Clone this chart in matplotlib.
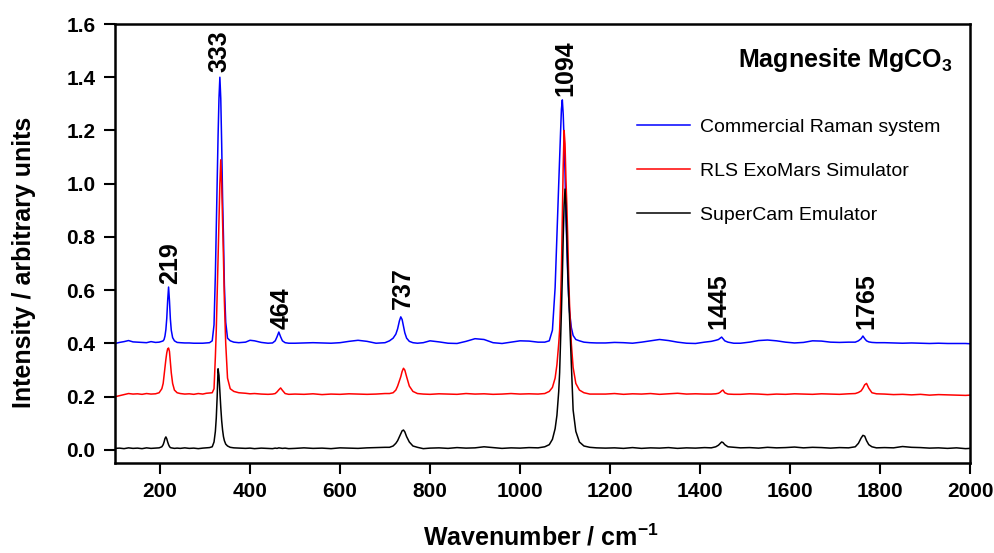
import matplotlib
matplotlib.use("Agg")
import matplotlib.pyplot as plt

plt.rcParams['font.family'] = ['Liberation Sans', 'DejaVu Sans']

# Wavenumber grid (cm^-1)
wavenumber = [
    100, 110, 120, 130, 140, 150, 160, 170, 180, 190, 198, 204,
    207, 209, 211, 213, 215, 217, 219, 221, 223, 225, 228, 232, 238,
    245, 255, 265, 275, 285, 295, 303, 310, 316, 320,
    323, 325, 327, 329, 331, 333, 335, 337, 339, 341, 343, 346, 350, 356, 364, 375,
    390, 400, 410, 425, 440, 450, 456, 460, 464, 468, 472, 478, 486,
    500, 520, 540, 560, 580, 600, 620, 640, 660, 680, 700,
    710, 718, 724, 728, 732, 735, 738, 741, 744, 748, 754, 762, 772, 785,
    800, 820, 840, 860, 880, 900, 920, 940, 960, 980, 1000, 1020, 1040,
    1055, 1065, 1072, 1078, 1082, 1086, 1088, 1090, 1092, 1094, 1096, 1098, 1100,
    1102, 1104, 1106, 1108, 1110, 1114, 1118, 1124, 1132, 1142, 1155, 1170,
    1190, 1210, 1230, 1250, 1270, 1290, 1310, 1330, 1350, 1370, 1390, 1410,
    1425, 1435, 1441, 1445, 1448, 1451, 1455, 1462, 1475,
    1490, 1510, 1530, 1550, 1570, 1590, 1610, 1630, 1650, 1670, 1690, 1710, 1730,
    1745, 1752, 1758, 1762, 1766, 1770, 1775, 1782, 1792,
    1810, 1830, 1850, 1870, 1890, 1910, 1930, 1950, 1970, 1990, 2000,
]

commercial = [
    0.400, 0.404, 0.407, 0.411, 0.406, 0.405, 0.404, 0.403, 0.407, 0.404, 0.405, 0.408,
    0.410, 0.415, 0.428, 0.452, 0.495, 0.562, 0.612, 0.560, 0.492, 0.450, 0.422, 0.410, 0.404,
    0.403, 0.402, 0.402, 0.401, 0.401, 0.401, 0.402, 0.403, 0.410, 0.470,
    0.660, 0.840, 1.000, 1.180, 1.320, 1.400, 1.320, 1.150, 0.950, 0.800, 0.620, 0.480, 0.420, 0.410, 0.405, 0.403,
    0.405, 0.412, 0.410, 0.404, 0.401, 0.402, 0.410, 0.425, 0.443, 0.425, 0.410, 0.403, 0.401,
    0.401, 0.402, 0.403, 0.402, 0.401, 0.403, 0.408, 0.412, 0.408, 0.401, 0.403,
    0.410, 0.420, 0.435, 0.455, 0.485, 0.500, 0.490, 0.465, 0.440, 0.420, 0.408, 0.403, 0.401, 0.403,
    0.410, 0.406, 0.401, 0.400, 0.408, 0.418, 0.415, 0.403, 0.400, 0.405, 0.410, 0.409, 0.405,
    0.405, 0.410, 0.450, 0.610, 0.800, 1.000, 1.100, 1.190, 1.280, 1.315, 1.260, 1.160, 1.040,
    0.880, 0.770, 0.660, 0.580, 0.520, 0.460, 0.430, 0.415, 0.410, 0.405, 0.403, 0.402,
    0.402, 0.404, 0.403, 0.401, 0.405, 0.410, 0.415, 0.411, 0.405, 0.401, 0.400, 0.405,
    0.408, 0.412, 0.415, 0.420, 0.424, 0.418, 0.410, 0.405, 0.401,
    0.401, 0.405, 0.411, 0.413, 0.410, 0.405, 0.402, 0.404, 0.410, 0.409, 0.405, 0.404, 0.405,
    0.405, 0.410, 0.418, 0.428, 0.418, 0.410, 0.406, 0.404, 0.403,
    0.403, 0.402, 0.401, 0.402, 0.401, 0.400, 0.401, 0.400, 0.400, 0.400, 0.399,
]

rls_exomars = [
    0.200, 0.204, 0.208, 0.212, 0.210, 0.211, 0.209, 0.212, 0.210, 0.211, 0.215, 0.230,
    0.250, 0.280, 0.310, 0.340, 0.365, 0.380, 0.383, 0.370, 0.330, 0.290, 0.250, 0.225, 0.215,
    0.212, 0.210, 0.211, 0.209, 0.212, 0.210, 0.213, 0.214, 0.215, 0.230,
    0.350, 0.450, 0.580, 0.720, 0.860, 1.000, 1.090, 1.000, 0.860, 0.720, 0.560, 0.400, 0.270, 0.230, 0.220, 0.215,
    0.213, 0.211, 0.212, 0.210, 0.209, 0.210, 0.212, 0.218, 0.226, 0.233, 0.224, 0.212, 0.209,
    0.210, 0.209, 0.211, 0.208, 0.210, 0.209, 0.211, 0.210, 0.209, 0.210, 0.212,
    0.212, 0.215, 0.225, 0.240, 0.260, 0.275, 0.295, 0.307, 0.300, 0.275, 0.240, 0.220, 0.212, 0.210,
    0.209, 0.211, 0.210, 0.209, 0.212, 0.210, 0.211, 0.209, 0.210, 0.212, 0.210, 0.211, 0.210,
    0.212, 0.220, 0.235, 0.270, 0.320, 0.400, 0.450, 0.550, 0.680, 0.880, 1.070, 1.200, 1.150,
    1.020, 0.920, 0.800, 0.660, 0.550, 0.400, 0.310, 0.250, 0.225, 0.215, 0.210, 0.210,
    0.210, 0.212, 0.209, 0.211, 0.210, 0.212, 0.209, 0.211, 0.213, 0.210, 0.211, 0.210,
    0.210, 0.211, 0.213, 0.217, 0.222, 0.225, 0.215, 0.210, 0.209,
    0.209, 0.211, 0.210, 0.208, 0.210, 0.209, 0.211, 0.210, 0.209, 0.211, 0.210, 0.209, 0.211,
    0.212, 0.216, 0.222, 0.232, 0.245, 0.250, 0.232, 0.215, 0.211,
    0.210, 0.208, 0.209, 0.207, 0.209, 0.206, 0.208, 0.207, 0.206, 0.205, 0.206,
]

supercam = [
    0.006, 0.007, 0.005, 0.008, 0.006, 0.007, 0.005, 0.008, 0.006, 0.007, 0.008, 0.012,
    0.020, 0.030, 0.043, 0.049, 0.042, 0.030, 0.020, 0.013, 0.009, 0.008, 0.007, 0.006, 0.007,
    0.006, 0.008, 0.006, 0.007, 0.005, 0.007, 0.008, 0.009, 0.012, 0.030,
    0.070, 0.120, 0.200, 0.305, 0.280, 0.220, 0.160, 0.110, 0.075, 0.050, 0.035, 0.022, 0.015, 0.010, 0.008, 0.007,
    0.006, 0.007, 0.005, 0.007, 0.006, 0.005, 0.007, 0.006, 0.008, 0.007, 0.006, 0.007, 0.005,
    0.006, 0.008, 0.006, 0.007, 0.005, 0.008, 0.007, 0.006, 0.008, 0.009, 0.010,
    0.010, 0.015, 0.025, 0.035, 0.050, 0.062, 0.072, 0.075, 0.068, 0.050, 0.030, 0.015, 0.010, 0.005,
    0.007, 0.008, 0.006, 0.009, 0.007, 0.008, 0.012, 0.009, 0.006, 0.008, 0.007, 0.009, 0.008,
    0.012, 0.020, 0.040, 0.080, 0.130, 0.220, 0.290, 0.400, 0.520, 0.650, 0.800, 0.920, 0.980,
    0.920, 0.800, 0.680, 0.580, 0.500, 0.320, 0.150, 0.070, 0.030, 0.015, 0.010, 0.008,
    0.007, 0.008, 0.006, 0.009, 0.006, 0.008, 0.007, 0.009, 0.006, 0.008, 0.007, 0.009,
    0.008, 0.012, 0.018, 0.025, 0.030, 0.028, 0.020, 0.012, 0.010,
    0.008, 0.009, 0.007, 0.010, 0.008, 0.009, 0.011, 0.008, 0.010, 0.009, 0.007, 0.009, 0.008,
    0.012, 0.025, 0.045, 0.055, 0.052, 0.035, 0.020, 0.012, 0.008,
    0.009, 0.008, 0.013, 0.010, 0.009, 0.007, 0.008, 0.006, 0.008, 0.005, 0.006,
]

series_names = ["Commercial Raman system", "RLS ExoMars Simulator", "SuperCam Emulator"]
series_colors = ["#0000ff", "#ff0000", "#000000"]

peak_labels = ["219", "333", "464", "737", "1094", "1445", "1765"]
peak_label_x = [222, 333, 471, 740, 1100, 1440, 1769]
peak_label_y = [0.625, 1.42, 0.455, 0.53, 1.33, 0.455, 0.455]

x_ticks = [200, 400, 600, 800, 1000, 1200, 1400, 1600, 1800, 2000]
y_ticks = [0.0, 0.2, 0.4, 0.6, 0.8, 1.0, 1.2, 1.4, 1.6]

fig = plt.figure(figsize=(9.95, 5.53), dpi=100)
ax = fig.add_axes([0.1156, 0.1627, 0.8593, 0.7939])

for y, name, col in zip([commercial, rls_exomars, supercam], series_names, series_colors):
    ax.plot(wavenumber, y, color=col, lw=1.1, label=name)

for lab, px, py in zip(peak_labels, peak_label_x, peak_label_y):
    ax.text(px, py, lab, rotation=90, ha='center', va='bottom',
            fontsize=18, fontweight='bold')

ax.text(0.979, 0.918, "Magnesite MgCO$_\\mathregular{3}$", transform=ax.transAxes,
        ha='right', va='center', fontsize=18, fontweight='bold')

ax.set_xlim(100, 2000)
ax.set_ylim(-0.049, 1.6)
ax.set_xticks(x_ticks)
ax.set_yticks(y_ticks)
ax.set_yticklabels([f"{v:.1f}" for v in y_ticks])
ax.tick_params(direction='out', length=8, width=1.5, pad=6)
ax.tick_params(axis='x', labelsize=15)
ax.tick_params(axis='y', labelsize=15)
for lbl in ax.get_xticklabels() + ax.get_yticklabels():
    lbl.set_fontweight('bold')
for sp in ax.spines.values():
    sp.set_linewidth(1.8)

ax.set_xlabel("Wavenumber / cm$^\\mathregular{-1}$", fontsize=18, fontweight='bold')
ax.xaxis.set_label_coords(0.498, -0.138)
ax.set_ylabel("Intensity / arbitrary units", fontsize=18, fontweight='bold')
ax.yaxis.set_label_coords(-0.092, 0.456)

leg = ax.legend(loc='upper left', bbox_to_anchor=(0.6105, 0.786), frameon=False,
                fontsize=14, handlelength=2.75, handletextpad=0.5, labelspacing=1.36,
                borderpad=0, borderaxespad=0)

fig.savefig("out.png", dpi=100)
